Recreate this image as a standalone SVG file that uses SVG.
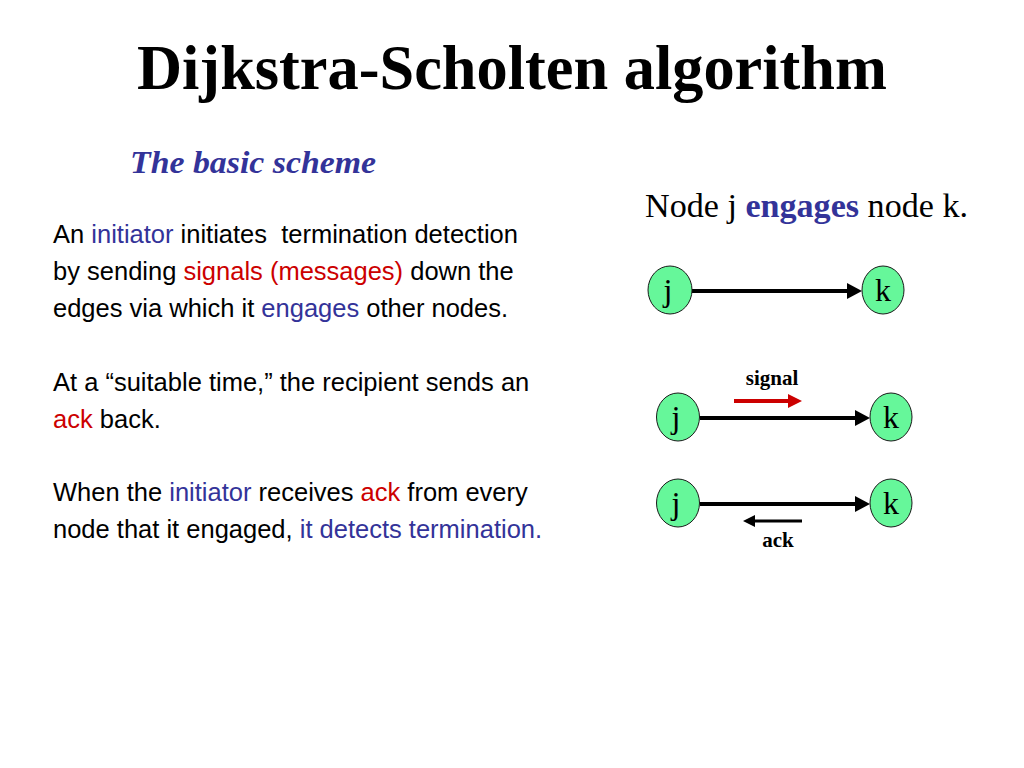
<svg xmlns="http://www.w3.org/2000/svg" width="1024" height="768" viewBox="0 0 1024 768">
<defs>
<style>
.title{font-family:"Liberation Serif","Times New Roman",serif;font-weight:bold;font-size:64px;fill:#000}
.sub{font-family:"Liberation Serif","Times New Roman",serif;font-weight:bold;font-style:italic;font-size:32px;fill:#333399}
.cap{font-family:"Liberation Serif","Times New Roman",serif;font-size:34px;fill:#000}
.body{font-family:"Liberation Sans",Arial,sans-serif;font-size:25.5px;fill:#000;white-space:pre}
.b{fill:#333399}
.r{fill:#CC0000}
.node ellipse{fill:#66F79A;stroke:#1a1a1a;stroke-width:1}
.node text{font-family:"Liberation Serif","Times New Roman",serif;font-size:32px;fill:#000;text-anchor:middle}
.edge{stroke:#000;stroke-width:4;fill:none}
.lbl{font-family:"Liberation Serif","Times New Roman",serif;font-weight:bold;font-size:21px;fill:#000;text-anchor:middle}
</style>
<marker id="ah" markerUnits="userSpaceOnUse" markerWidth="15" markerHeight="16" viewBox="0 0 15 16" refX="0" refY="8" orient="auto"><path d="M0,0 L15,8 L0,16 Z" fill="#000"/></marker>
<marker id="ahr" markerUnits="userSpaceOnUse" markerWidth="14" markerHeight="14" viewBox="0 0 14 14" refX="0" refY="7" orient="auto"><path d="M0,0 L14,7 L0,14 Z" fill="#CC0000"/></marker>
<marker id="ahs" markerUnits="userSpaceOnUse" markerWidth="12" markerHeight="12" viewBox="0 0 12 12" refX="0" refY="6" orient="auto"><path d="M0,0 L12,6 L0,12 Z" fill="#000"/></marker>
</defs>
<rect width="1024" height="768" fill="#fff"/>
<text class="title" x="512" y="89" text-anchor="middle" textLength="750" lengthAdjust="spacingAndGlyphs">Dijkstra-Scholten algorithm</text>
<text class="sub" x="130" y="173" textLength="246" lengthAdjust="spacingAndGlyphs">The basic scheme</text>
<text class="cap" x="645" y="217" textLength="323" lengthAdjust="spacingAndGlyphs">Node j <tspan class="b" font-weight="bold">engages</tspan> node k.</text>
<g id="bodytext">
<text class="body" x="53" y="243">An <tspan class="b">initiator</tspan> initiates  termination detection</text>
<text class="body" x="53" y="280">by sending <tspan class="r">signals (messages)</tspan> down the</text>
<text class="body" x="53" y="317">edges via which it <tspan class="b">engages</tspan> other nodes.</text>
<text class="body" x="53" y="391">At a “suitable time,” the recipient sends an</text>
<text class="body" x="53" y="428"><tspan class="r">ack</tspan> back.</text>
<text class="body" x="53" y="501">When the <tspan class="b">initiator</tspan> receives <tspan class="r">ack</tspan> from every</text>
<text class="body" x="53" y="538">node that it engaged, <tspan class="b">it detects termination.</tspan></text>
</g>
<g id="connectors">
<line class="edge" x1="692" y1="291" x2="847" y2="291" marker-end="url(#ah)"/>
<line class="edge" x1="700" y1="418" x2="855" y2="418" marker-end="url(#ah)"/>
<line class="edge" x1="700" y1="504" x2="855" y2="504" marker-end="url(#ah)"/>
<line x1="734" y1="401" x2="788" y2="401" stroke="#CC0000" stroke-width="4" marker-end="url(#ahr)"/>
<line x1="802" y1="521" x2="755" y2="521" stroke="#000" stroke-width="3" marker-end="url(#ahs)"/>
</g>
<text class="lbl" x="772" y="385">signal</text>
<text class="lbl" x="778" y="547">ack</text>
<g id="j1" class="node"><ellipse cx="670" cy="290" rx="22" ry="24"/><text x="668" y="301">j</text></g>
<g id="k1" class="node"><ellipse cx="883" cy="290" rx="21" ry="24"/><text x="883" y="301">k</text></g>
<g id="j2" class="node"><ellipse cx="678" cy="417" rx="21.5" ry="24"/><text x="676" y="428">j</text></g>
<g id="k2" class="node"><ellipse cx="891" cy="417" rx="21" ry="24"/><text x="891" y="428">k</text></g>
<g id="j3" class="node"><ellipse cx="678" cy="503" rx="21.5" ry="24"/><text x="676" y="514">j</text></g>
<g id="k3" class="node"><ellipse cx="891" cy="503" rx="21" ry="24"/><text x="891" y="514">k</text></g>
</svg>
